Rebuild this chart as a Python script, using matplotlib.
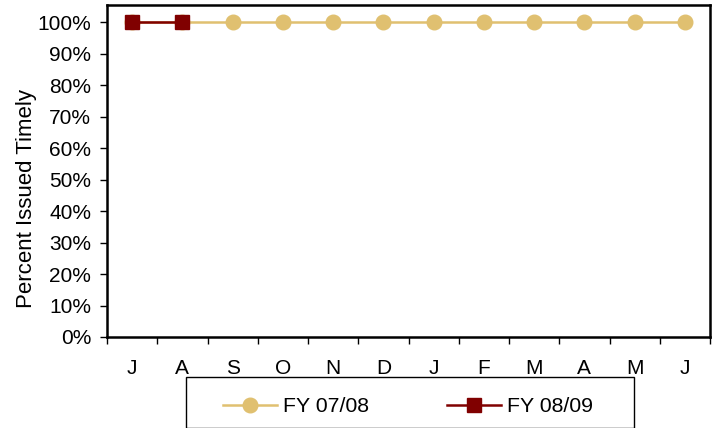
import numpy as np
import matplotlib.pyplot as plt
from matplotlib.patches import Rectangle
from matplotlib.ticker import PercentFormatter

months = ["J", "A", "S", "O", "N", "D", "J", "F", "M", "A", "M", "J"]
fy0708 = [1.0, 1.0, 1.0, 1.0, 1.0, 1.0, 1.0, 1.0, 1.0, 1.0, 1.0, 1.0]
fy0809 = [1.0, 1.0]

plt.rcParams['font.family'] = ['Liberation Sans', 'DejaVu Sans']
plt.rcParams['font.size'] = 15

W, H = 715, 428
fig = plt.figure(figsize=(W / 100, H / 100), dpi=100)
# plot area in pixels: left 107, right 710, top 5, bottom 337
ax = fig.add_axes([107 / W, 1 - 337 / H, (710 - 107) / W, (337 - 5) / H])

x = np.arange(len(months))
ax.plot(x, fy0708, color='#E0C070', lw=1.8, marker='o', ms=10.5,
        mec='#E0C070', mfc='#E0C070', label='FY 07/08', zorder=3)
ax.plot(x[:len(fy0809)], fy0809, color='#800000', lw=1.8, marker='s', ms=10.5,
        mec='#800000', mfc='#800000', label='FY 08/09', zorder=4)

ax.set_xlim(-0.5, len(months) - 0.5)
ax.set_ylim(0, 1.054)
ax.set_yticks(np.arange(0, 1.01, 0.1))
ax.yaxis.set_major_formatter(PercentFormatter(1.0, decimals=0))
ax.set_xticks(x)
ax.set_xticklabels(months)
ax.set_xticks(np.arange(-0.5, len(months), 1), minor=True)
ax.tick_params(axis='x', which='major', length=0, pad=15.5)
ax.tick_params(axis='x', which='minor', length=5, width=1, direction='out')
ax.tick_params(axis='y', length=5, width=1, direction='out', pad=6.5)
for s in ax.spines.values():
    s.set_linewidth(1.8)
    s.set_color('black')
ax.set_ylabel('Percent Issued Timely', fontsize=16)
ax.yaxis.set_label_coords((37 - 107) / (710 - 107), (337 - 199) / (337 - 5))

# legend box at the bottom, partly clipped by the figure edge
fig.patches.append(Rectangle((186 / W, 0), (634 - 186) / W, (H - 386) / H + 0.02,
                             transform=fig.transFigure, fill=False,
                             edgecolor='black', lw=1))
fig.legend(loc='center', bbox_to_anchor=(408 / W, 1 - 407 / H), ncol=2,
           frameon=False, handlelength=2.54, handletextpad=0.28,
           columnspacing=3.67, fontsize=15.3)

fig.savefig('out.png', dpi=100)
